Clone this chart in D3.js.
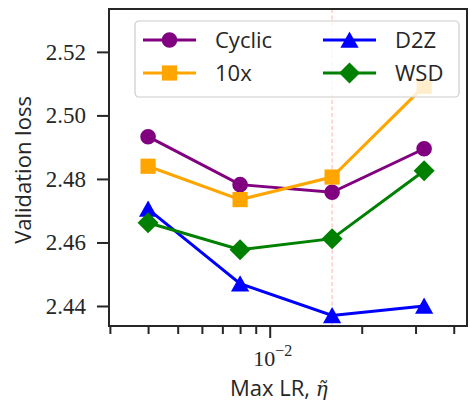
<!DOCTYPE html>
<html>
<head>
<meta charset="utf-8">
<script src="https://cdn.jsdelivr.net/npm/d3@7"></script>
<style>
  body { margin: 0; background: #fff; }
  svg { display: block; }
</style>
</head>
<body>
<div id="chart"></div>
<script>
// Data
const maxLR = [0.004, 0.008, 0.016, 0.032];
const cyclic = [2.4933, 2.4782, 2.4758, 2.4895];
const tenX = [2.4840, 2.4735, 2.4806, 2.5092];
const d2z = [2.4705, 2.4470, 2.4370, 2.4400];
const wsd = [2.4662, 2.4577, 2.4612, 2.4826];
const yTicks = [2.44, 2.46, 2.48, 2.50, 2.52];
const xMajor = [0.01];
const xMinor = [0.003, 0.004, 0.005, 0.006, 0.007, 0.008, 0.009, 0.02, 0.03, 0.04];
const markedLR = 0.016;

// matplotlib-like marker shapes (size = half width in px)
const triUp = { draw(ctx, r) { ctx.moveTo(0, -r); ctx.lineTo(r * 1.06, r * 0.9); ctx.lineTo(-r * 1.06, r * 0.9); ctx.closePath(); } };
const diamond = { draw(ctx, r) { ctx.moveTo(0, -r); ctx.lineTo(r, 0); ctx.lineTo(0, r); ctx.lineTo(-r, 0); ctx.closePath(); } };
const square = { draw(ctx, r) { ctx.rect(-r, -r, 2 * r, 2 * r); } };
const circle = { draw(ctx, r) { ctx.moveTo(r, 0); ctx.arc(0, 0, r, 0, 2 * Math.PI); } };

const series = [
  { name: "Cyclic", values: cyclic, color: "#800080", symbol: circle, size: 7.8 },
  { name: "10x", values: tenX, color: "#ffa500", symbol: square, size: 7.6 },
  { name: "D2Z", values: d2z, color: "#0000ff", symbol: triUp, size: 8.6 },
  { name: "WSD", values: wsd, color: "#008000", symbol: diamond, size: 10.5 }
];

const W = 470, H = 402;
const margin = { top: 9, right: 3, bottom: 76, left: 109 };
const width = W - margin.left - margin.right;
const height = H - margin.top - margin.bottom;

const svg = d3.select("#chart").append("svg")
  .attr("width", W)
  .attr("height", H);

const g = svg.append("g")
  .attr("transform", `translate(${margin.left},${margin.top})`);

// Scales
const x = d3.scaleLog()
  .domain([0.00298, 0.0442])
  .range([0, width]);

const y = d3.scaleLinear()
  .domain([2.4337, 2.5335])
  .range([height, 0]);

const spine = "#262626";
const serif = "Liberation Serif, DejaVu Serif, serif";
const sans = "Open Sans, DejaVu Sans, sans-serif";

// Red dashed reference line
g.append("line")
  .attr("x1", x(markedLR))
  .attr("x2", x(markedLR))
  .attr("y1", 0)
  .attr("y2", height)
  .attr("stroke", "#ff8080")
  .attr("stroke-opacity", 0.6)
  .attr("stroke-width", 1)
  .attr("stroke-dasharray", "4,2.5");

// Lines and markers
const line = d3.line()
  .x((d, i) => x(maxLR[i]))
  .y(d => y(d));

series.forEach(s => {
  g.append("path")
    .datum(s.values)
    .attr("d", line)
    .attr("fill", "none")
    .attr("stroke", s.color)
    .attr("stroke-width", 3);

  g.selectAll(null)
    .data(s.values)
    .enter()
    .append("path")
    .attr("d", d3.symbol().type(s.symbol).size(s.size))
    .attr("transform", (d, i) => `translate(${x(maxLR[i])},${y(d)})`)
    .attr("fill", s.color);
});

// Axes
const yAxis = g.append("g")
  .call(d3.axisLeft(y).tickValues(yTicks).tickFormat(d3.format(".2f")).tickSize(12).tickPadding(11))
  .attr("font-family", serif)
  .attr("font-size", 23);

const xMinorAxis = g.append("g")
  .attr("transform", `translate(0,${height})`)
  .call(d3.axisBottom(x).tickValues(xMinor).tickFormat("").tickSize(8));

const xMajorAxis = g.append("g")
  .attr("transform", `translate(0,${height})`)
  .call(d3.axisBottom(x).tickValues(xMajor).tickFormat("").tickSize(12));

[yAxis, xMinorAxis, xMajorAxis].forEach(a => {
  a.select(".domain").remove();
  a.selectAll(".tick line").attr("stroke", spine).attr("stroke-width", 2);
});

yAxis.selectAll(".tick text").attr("fill", spine);

// 10^-2 label
xMajor.forEach(v => {
  const t = g.append("text")
    .attr("x", x(v) + 3)
    .attr("y", height + 40)
    .attr("text-anchor", "middle")
    .attr("font-family", serif)
    .attr("font-size", 22)
    .attr("fill", spine);
  t.append("tspan").text("10");
  t.append("tspan")
    .attr("dy", -10)
    .attr("font-size", 16)
    .text("\u22122");
});

// Frame
g.append("rect")
  .attr("x", 0)
  .attr("y", 0)
  .attr("width", width)
  .attr("height", height)
  .attr("fill", "none")
  .attr("stroke", spine)
  .attr("stroke-width", 2);

// Axis titles
const xTitle = svg.append("text")
  .attr("x", 230)
  .attr("y", 396)
  .attr("font-family", sans)
  .attr("font-size", 22)
  .attr("fill", spine);
xTitle.append("tspan").text("Max LR, ");
xTitle.append("tspan")
  .attr("font-family", "DejaVu Serif, serif")
  .attr("font-style", "italic")
  .attr("font-size", 20)
  .text("\u03b7\u0303");

svg.append("text")
  .attr("transform", `translate(31,170) rotate(-90)`)
  .attr("text-anchor", "middle")
  .attr("font-family", sans)
  .attr("font-size", 22)
  .attr("fill", spine)
  .text("Validation loss");

// Legend
const legend = svg.append("g")
  .attr("transform", "translate(135,21)");

legend.append("rect")
  .attr("width", 324)
  .attr("height", 76)
  .attr("rx", 4)
  .attr("fill", "#fff")
  .attr("fill-opacity", 0.8)
  .attr("stroke", "#cccccc")
  .attr("stroke-width", 1.2);

series.forEach((s, i) => {
  const col = Math.floor(i / 2), row = i % 2;
  const item = legend.append("g")
    .attr("transform", `translate(${8 + col * 180},${19 + row * 33})`);
  item.append("line")
    .attr("x1", 0)
    .attr("x2", 53)
    .attr("stroke", s.color)
    .attr("stroke-width", 3);
  item.append("path")
    .attr("d", d3.symbol().type(s.symbol).size(s.size))
    .attr("transform", "translate(26.5,0)")
    .attr("fill", s.color);
  item.append("text")
    .attr("x", 72)
    .attr("y", 8)
    .attr("font-family", sans)
    .attr("font-size", 22)
    .attr("fill", spine)
    .text(s.name);
});
</script>
</body>
</html>
